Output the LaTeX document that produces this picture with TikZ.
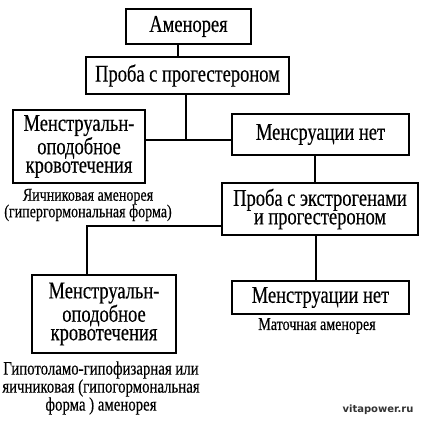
\documentclass[tikz,border=0pt]{standalone}
\usepackage{fontspec}
\setmainfont{Liberation Serif}
\newfontfamily\boxfont[FakeStretch=0.77,FakeBold=0.3]{Liberation Serif}
\newfontfamily\notefont[FakeStretch=0.78,FakeBold=0.3]{Liberation Serif}
\newfontfamily\wmfont{DejaVu Sans}
\begin{document}
\begin{tikzpicture}[x=1pt,y=-1pt,
  box/.style={draw, line width=1.1pt, inner sep=0pt, align=center,
    font=\boxfont\fontsize{24}{18.5}\selectfont},
  note/.style={inner sep=0pt, align=center, font=\notefont\fontsize{18}{16.5}\selectfont},
  link/.style={line width=1.1pt}]
\useasboundingbox[fill=white] (0,0) rectangle (424,424);
\node[box, minimum width=125, minimum height=35] (b1) at (188.5,26.5) {Аменорея};
\node[box, minimum width=203, minimum height=37] (b2) at (187.5,75.5) {Проба с прогестероном};
\node[box, minimum width=132, minimum height=73] (b3) at (79,146.5) {Менструальн-\\оподобное\\кровотечения};
\node[box, minimum width=177, minimum height=41] (b4) at (320.5,134.5) {Менсруации нет};
\node[box, minimum width=196, minimum height=52] (b5) at (320,209) {Проба с экстрогенами\\и прогестероном};
\node[box, minimum width=144, minimum height=78] (b6) at (104,314) {Менструальн-\\оподобное\\кровотечения};
\node[box, minimum width=177, minimum height=33] (b7) at (320.5,297.5) {Менструации нет};
\node[note] (t1) at (88,205) {Яичниковая аменорея\\(гипергормональная форма)};
\node[note] (t2) at (317,326) {Маточная аменорея};
\node[note, font=\notefont\fontsize{19}{18}\selectfont] (t3) at (101,388) {Гипотоламо-гипофизарная или\\яичниковая (гипогормональная\\форма ) аменорея};
\node[inner sep=0pt, text=black!80, font=\wmfont\bfseries\fontsize{10}{12}\selectfont] (wm) at (378,410) {vitapower.ru};
% connectors
\draw[link] (b1.south -| 178,0) -- (b2.north -| 178,0);
\coordinate (j1) at (186,140);
\draw[link] (b2.south -| j1) -- (j1);
\draw[link] (b3.east |- j1) -- (b4.west |- j1);
\draw[link] (b4.south -| 315,0) -- (b5.north -| 315,0);
\coordinate (j2) at (87,226);
\draw[link] (b5.west |- j2) -- (j2) -- (b6.north -| j2);
\draw[link] (b5.south -| 316,0) -- (b7.north -| 316,0);
\end{tikzpicture}
\end{document}
